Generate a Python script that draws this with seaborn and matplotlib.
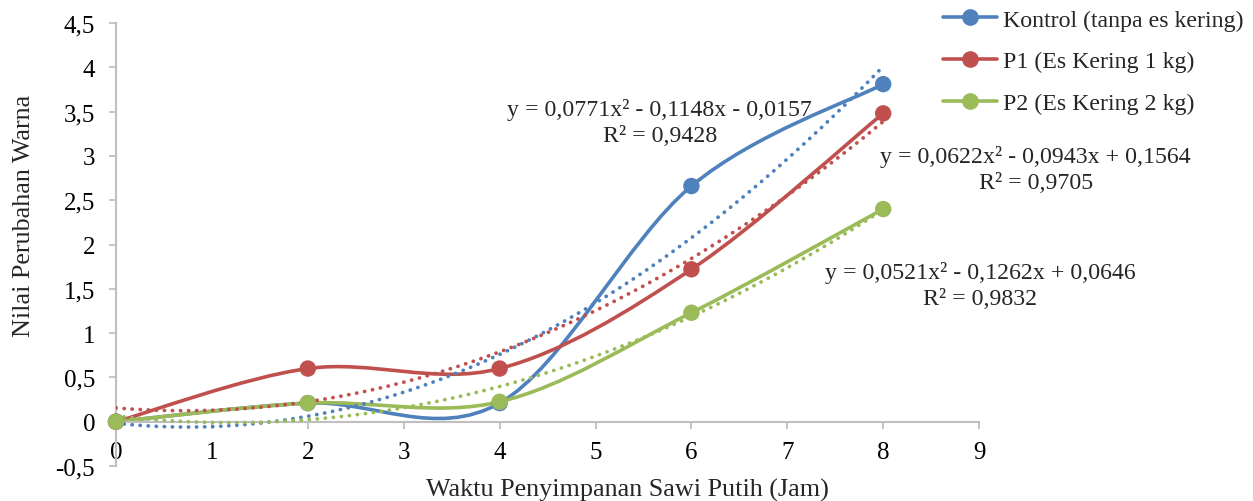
import numpy as np
import pandas as pd
import matplotlib
matplotlib.use("Agg")
import matplotlib.pyplot as plt
from matplotlib.path import Path
from matplotlib.patches import PathPatch
from matplotlib.lines import Line2D
from matplotlib.ticker import FuncFormatter
import seaborn as sns

# data
jam = [0, 2, 4, 6, 8]
kontrol = [0, 0.21, 0.21, 2.66, 3.81]
p1 = [0, 0.60, 0.60, 1.72, 3.48]
p2 = [0, 0.21, 0.225, 1.23, 2.40]
labels = ["Kontrol (tanpa es kering)", "P1 (Es Kering 1 kg)", "P2 (Es Kering 2 kg)"]
colors = ["#4F81BD", "#C0504D", "#9BBB59"]
equations = [
    "y = 0,0771x² - 0,1148x - 0,0157\nR² = 0,9428",
    "y = 0,0622x² - 0,0943x + 0,1564\nR² = 0,9705",
    "y = 0,0521x² - 0,1262x + 0,0646\nR² = 0,9832",
]
eq_pos = [(5.67, 3.38), (9.59, 2.85), (9.01, 1.54)]

sns.set_theme(style="white")
plt.rcParams['font.family'] = ['Liberation Serif', 'DejaVu Serif']
FS_TICK = 18
FS_LAB = 18.8
FS_TXT = 17.2

series = [kontrol, p1, p2]
df = pd.concat([pd.DataFrame({'jam': jam, 'nilai': s, 'perlakuan': lab})
                for s, lab in zip(series, labels)], ignore_index=True)


def smooth_path(xs, ys):
    # excel-like smoothed line, drawn as bezier segments
    P = np.column_stack([xs, ys]).astype(float)
    n = len(P)
    verts = [P[0]]
    codes = [Path.MOVETO]
    for i in range(n - 1):
        prev = P[i - 1] if i > 0 else P[i]
        nxt = P[i + 2] if i + 2 < n else P[i + 1]
        c1 = P[i] + (P[i + 1] - prev) / 6
        c2 = P[i + 1] - (nxt - P[i]) / 6
        verts += [c1, c2, P[i + 1]]
        codes += [Path.CURVE4] * 3
    return Path(verts, codes)


fig = plt.figure(figsize=(12.53, 5.02), dpi=100)
ax = fig.add_axes([0.0926, 0.0697, 0.6888, 0.8825])

for s, c in zip(series, colors):
    ax.add_patch(PathPatch(smooth_path(jam, s), fill=False, edgecolor=c,
                           lw=2.6, zorder=2, clip_on=False))

for s, c in zip(series, colors):
    sns.regplot(x=jam, y=s, order=2, ci=None, scatter=False, ax=ax, color=c,
                line_kws=dict(lw=2.7, ls=(0, (0.05, 2.1)), dash_capstyle='round', zorder=3))

sns.scatterplot(data=df, x='jam', y='nilai', hue='perlakuan', hue_order=labels,
                palette=dict(zip(labels, colors)), s=140, linewidth=0,
                legend=False, ax=ax, zorder=4, clip_on=False)

ax.set_xlim(0, 9)
ax.set_ylim(-0.5, 4.5)
ax.set_xticks(range(10))
ax.set_yticks(np.arange(-0.5, 4.51, 0.5))
ax.yaxis.set_major_formatter(FuncFormatter(lambda v, p: ('%g' % v).replace('.', ',')))

for side in ['top', 'right']:
    ax.spines[side].set_visible(False)
ax.spines['bottom'].set_position(('data', 0))
for side in ['left', 'bottom']:
    ax.spines[side].set_color('#BFBFBF')
    ax.spines[side].set_linewidth(1.5)
ax.tick_params(axis='both', direction='out', length=5, width=1.3, color='#BFBFBF',
               labelsize=FS_TICK, labelcolor='black', left=True, bottom=True)
ax.tick_params(axis='x', pad=9)
ax.tick_params(axis='y', pad=10)

ax.set_xlabel("Waktu Penyimpanan Sawi Putih (Jam)", fontsize=FS_LAB)
ax.set_ylabel("Nilai Perubahan Warna", fontsize=FS_LAB)
ax.xaxis.label.set_va('center')
ax.yaxis.label.set_va('center')
ax.xaxis.set_label_coords(0.593, -0.052)
ax.yaxis.set_label_coords(-0.1066, 0.567)

for txt, (ex, ey) in zip(equations, eq_pos):
    ax.text(ex, ey, txt, ha='center', va='center', fontsize=FS_TXT, linespacing=1.3,
            multialignment='center', clip_on=False)

handles = [Line2D([], [], color=c, lw=2.6, marker='o', ms=11) for c in colors]
fig.legend(handles, labels, loc='upper left', bbox_to_anchor=(0.7526, 0.980),
           frameon=False, fontsize=FS_TXT, handlelength=2.26, labelspacing=0.83,
           handletextpad=0.25, borderaxespad=0, borderpad=0)

fig.savefig("out.png", dpi=100)
